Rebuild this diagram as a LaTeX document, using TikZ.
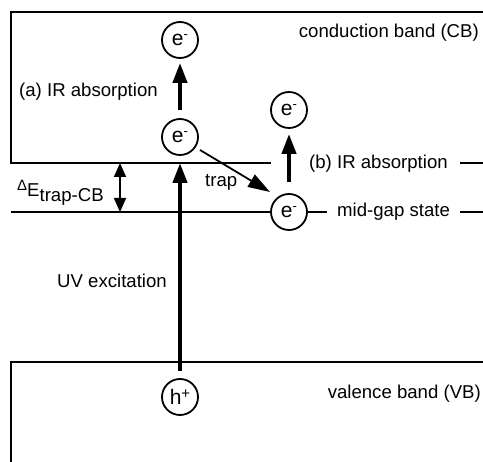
\documentclass[tikz,border=0pt]{standalone}
\usepackage{fontspec}
\setmainfont{Liberation Sans}
\usetikzlibrary{arrows.meta}
\begin{document}
\begin{tikzpicture}[x=1pt,y=-1pt,
  every node/.style={font=\fontsize{18.6}{22}\selectfont, inner sep=0pt},
  ptc/.style={circle, draw, line width=1.8pt, minimum size=36pt, inner sep=0pt, font=\fontsize{21}{24}\selectfont},
  band/.style={line width=1.8pt},
  bigarr/.style={line width=4.2pt, -{Triangle[length=20pt,width=14pt]}},
  traparr/.style={line width=1.8pt, -{Triangle[length=22pt,width=14pt]}},
  dblarr/.style={line width=1.8pt, {Triangle[length=14pt,width=12pt]}-{Triangle[length=14pt,width=12pt]}}
]
\useasboundingbox (0,0) rectangle (483,462);
% particles
\node[ptc] (e1) at (180,40) {e\raisebox{7pt}{\fontsize{13}{13}\selectfont -}};
\node[ptc] (e2) at (180,137) {e\raisebox{7pt}{\fontsize{13}{13}\selectfont -}};
\node[ptc] (e3) at (289,110) {e\raisebox{7pt}{\fontsize{13}{13}\selectfont -}};
\node[ptc] (e4) at (289,212) {e\raisebox{7pt}{\fontsize{13}{13}\selectfont -}};
\node[ptc] (h) at (180,397) {h\raisebox{6pt}{\fontsize{15}{15}\selectfont +}};
% coordinates
\coordinate (cbTR) at (483,12);
\coordinate (cbTL) at (11,12);
\coordinate (cbBL) at (11,163);
\coordinate (cbBR) at (271,163);
\coordinate (cbD1) at (460,163);
\coordinate (cbD2) at (483,163);
\coordinate (mgL) at (11,212);
\coordinate (mgR) at (327,212);
\coordinate (mgD1) at (460,212);
\coordinate (mgD2) at (483,212);
\coordinate (vbBL) at (11,462);
\coordinate (vbTL) at (11,362);
\coordinate (vbTR) at (483,362);
\coordinate (uvtip) at (180,163);
\coordinate (dEt) at (120,163);
\coordinate (dEb) at (120,212);
% bands
\draw[band] (cbTR) -- (cbTL) -- (cbBL) -- (cbBR);
\draw[band] (cbD1) -- (cbD2);
\draw[band] (mgL) -- (e4.west);
\draw[band] (e4.east) -- (mgR);
\draw[band] (mgD1) -- (mgD2);
\draw[band] (vbBL) -- (vbTL) -- (vbTR);
% arrows
\draw[bigarr, shorten <=7pt] (h.north) -- (uvtip);
\draw[bigarr, shorten <=8pt, shorten >=4pt] (e2.north) -- (e1.south);
\draw[bigarr, shorten <=11pt, shorten >=5pt] (e4.north) -- (e3.south);
\draw[traparr] ([shift={(20,13)}]e2.center) -- ([shift={(-19,-20)}]e4.center);
\draw[dblarr] (dEt) -- (dEb);
% labels
\node[anchor=base east] (cbl) at (479,38) {conduction band (CB)};
\node[anchor=base west] (ira) at (19,97) {(a) IR absorption};
\node[anchor=base west] (irb) at (309,169) {(b) IR absorption};
\node[anchor=base west] (mgl) at (337,217) {mid-gap state};
\node[anchor=base west] (uvl) at (57,288) {UV excitation};
\node[anchor=base east] (vbl) at (481,399) {valence band (VB)};
\node[anchor=base west] (trapl) at (205,187) {trap};
\node[anchor=base west] (del) at (17,197) {\raisebox{6pt}{\fontsize{15}{15}\selectfont Δ}E\raisebox{-5pt}{trap-CB}};
\end{tikzpicture}
\end{document}
